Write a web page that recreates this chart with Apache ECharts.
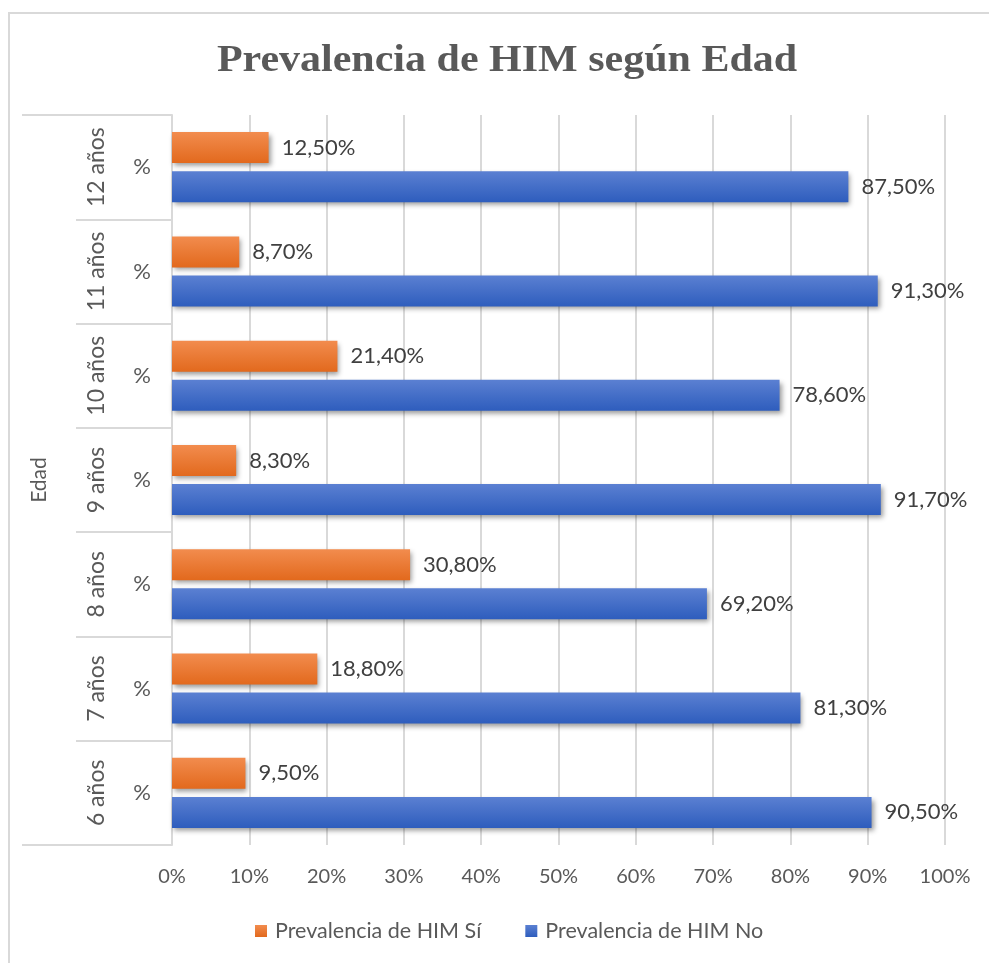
<!DOCTYPE html>
<html>
<head>
<meta charset="utf-8">
<script src="https://cdn.jsdelivr.net/npm/echarts@6/dist/echarts.min.js"></script>
<style>
html,body{margin:0;padding:0;background:#fff;}
#chart{width:989px;height:963px;}
</style>
</head>
<body>
<div id="chart"></div>
<script>
var categories = ['6 años', '7 años', '8 años', '9 años', '10 años', '11 años', '12 años'];
var groupLabel = ['Edad'];
var seriesNames = ['Prevalencia de HIM Sí', 'Prevalencia de HIM No'];
var valuesSi = [9.5, 18.8, 30.8, 8.3, 21.4, 8.7, 12.5];
var valuesNo = [90.5, 81.3, 69.2, 91.7, 78.6, 91.3, 87.5];
var titleText = 'Prevalencia de HIM según Edad';

var chart = echarts.init(document.getElementById('chart'), null, {renderer: 'canvas'});

function fmt(p) {
  return p.value.toFixed(2).replace('.', ',') + '%';
}
var gridColor = '#D9D9D9';
var textColor = '#595959';
var font = 'Lato';

function barSeries(name, data, cTop, cBot) {
  return {
    name: name,
    type: 'bar',
    data: data,
    yAxisIndex: 0,
    barWidth: 31,
    barGap: '26%',
    itemStyle: {
      color: new echarts.graphic.LinearGradient(0, 0, 0, 1, [
        {offset: 0, color: cTop},
        {offset: 1, color: cBot}
      ]),
      shadowColor: 'rgba(0,0,0,0.4)',
      shadowBlur: 5,
      shadowOffsetX: 2,
      shadowOffsetY: 3
    },
    label: {
      show: true,
      position: 'right',
      distance: 13,
      formatter: fmt,
      color: '#404040',
      fontFamily: font,
      fontSize: 22
    },
    emphasis: {disabled: true}
  };
}

var option = {
  animation: false,
  backgroundColor: '#ffffff',
  graphic: [
    {type: 'line', shape: {x1: 8, y1: 13, x2: 989, y2: 13}, style: {stroke: gridColor, lineWidth: 2}, silent: true},
    {type: 'line', shape: {x1: 9, y1: 13, x2: 9, y2: 963}, style: {stroke: gridColor, lineWidth: 2}, silent: true},
    {
      type: 'text',
      x: 507, y: 61,
      scaleY: 0.9,
      style: {
        text: titleText,
        textAlign: 'center',
        textVerticalAlign: 'middle',
        fontFamily: 'Liberation Serif',
        fontWeight: 'bold',
        fontSize: 42,
        fill: textColor
      }
    }
  ],
  legend: {
    bottom: 16,
    left: 250,
    itemWidth: 12,
    itemHeight: 12,
    itemGap: 44,
    icon: 'rect',
    textStyle: {color: textColor, fontFamily: font, fontSize: 21.5, padding: [0, 0, 0, 3]},
    data: seriesNames
  },
  grid: {left: 172, right: 44, top: 115, bottom: 118, containLabel: false},
  xAxis: {
    type: 'value',
    min: 0, max: 100, interval: 10,
    axisLine: {show: false},
    axisTick: {show: false},
    axisLabel: {formatter: '{value}%', color: textColor, fontFamily: font, fontSize: 20, margin: 22},
    splitLine: {show: true, lineStyle: {color: gridColor, width: 2}}
  },
  yAxis: [
    {
      type: 'category',
      data: categories,
      position: 'left',
      axisLine: {show: true, lineStyle: {color: gridColor, width: 2}},
      axisTick: {show: true, length: 96, lineStyle: {color: gridColor, width: 2}},
      axisLabel: {formatter: function () { return '%'; }, color: textColor, fontFamily: font, fontSize: 22, margin: 21}
    },
    {
      type: 'category',
      data: categories,
      position: 'left',
      axisLine: {show: false},
      axisTick: {show: false},
      axisLabel: {rotate: 90, color: textColor, fontFamily: font, fontSize: 23, margin: 64}
    },
    {
      type: 'category',
      data: groupLabel,
      position: 'left',
      axisLine: {show: false},
      axisTick: {show: true, length: 150, lineStyle: {color: gridColor, width: 2}},
      axisLabel: {rotate: 90, color: textColor, fontFamily: font, fontSize: 21, margin: 122, overflow: 'none'}
    }
  ],
  series: [
    barSeries(seriesNames[0], valuesSi, '#F28C4E', '#E2691D'),
    barSeries(seriesNames[1], valuesNo, '#5B80D2', '#2E5DBD')
  ]
};
chart.setOption(option);
</script>
</body>
</html>
